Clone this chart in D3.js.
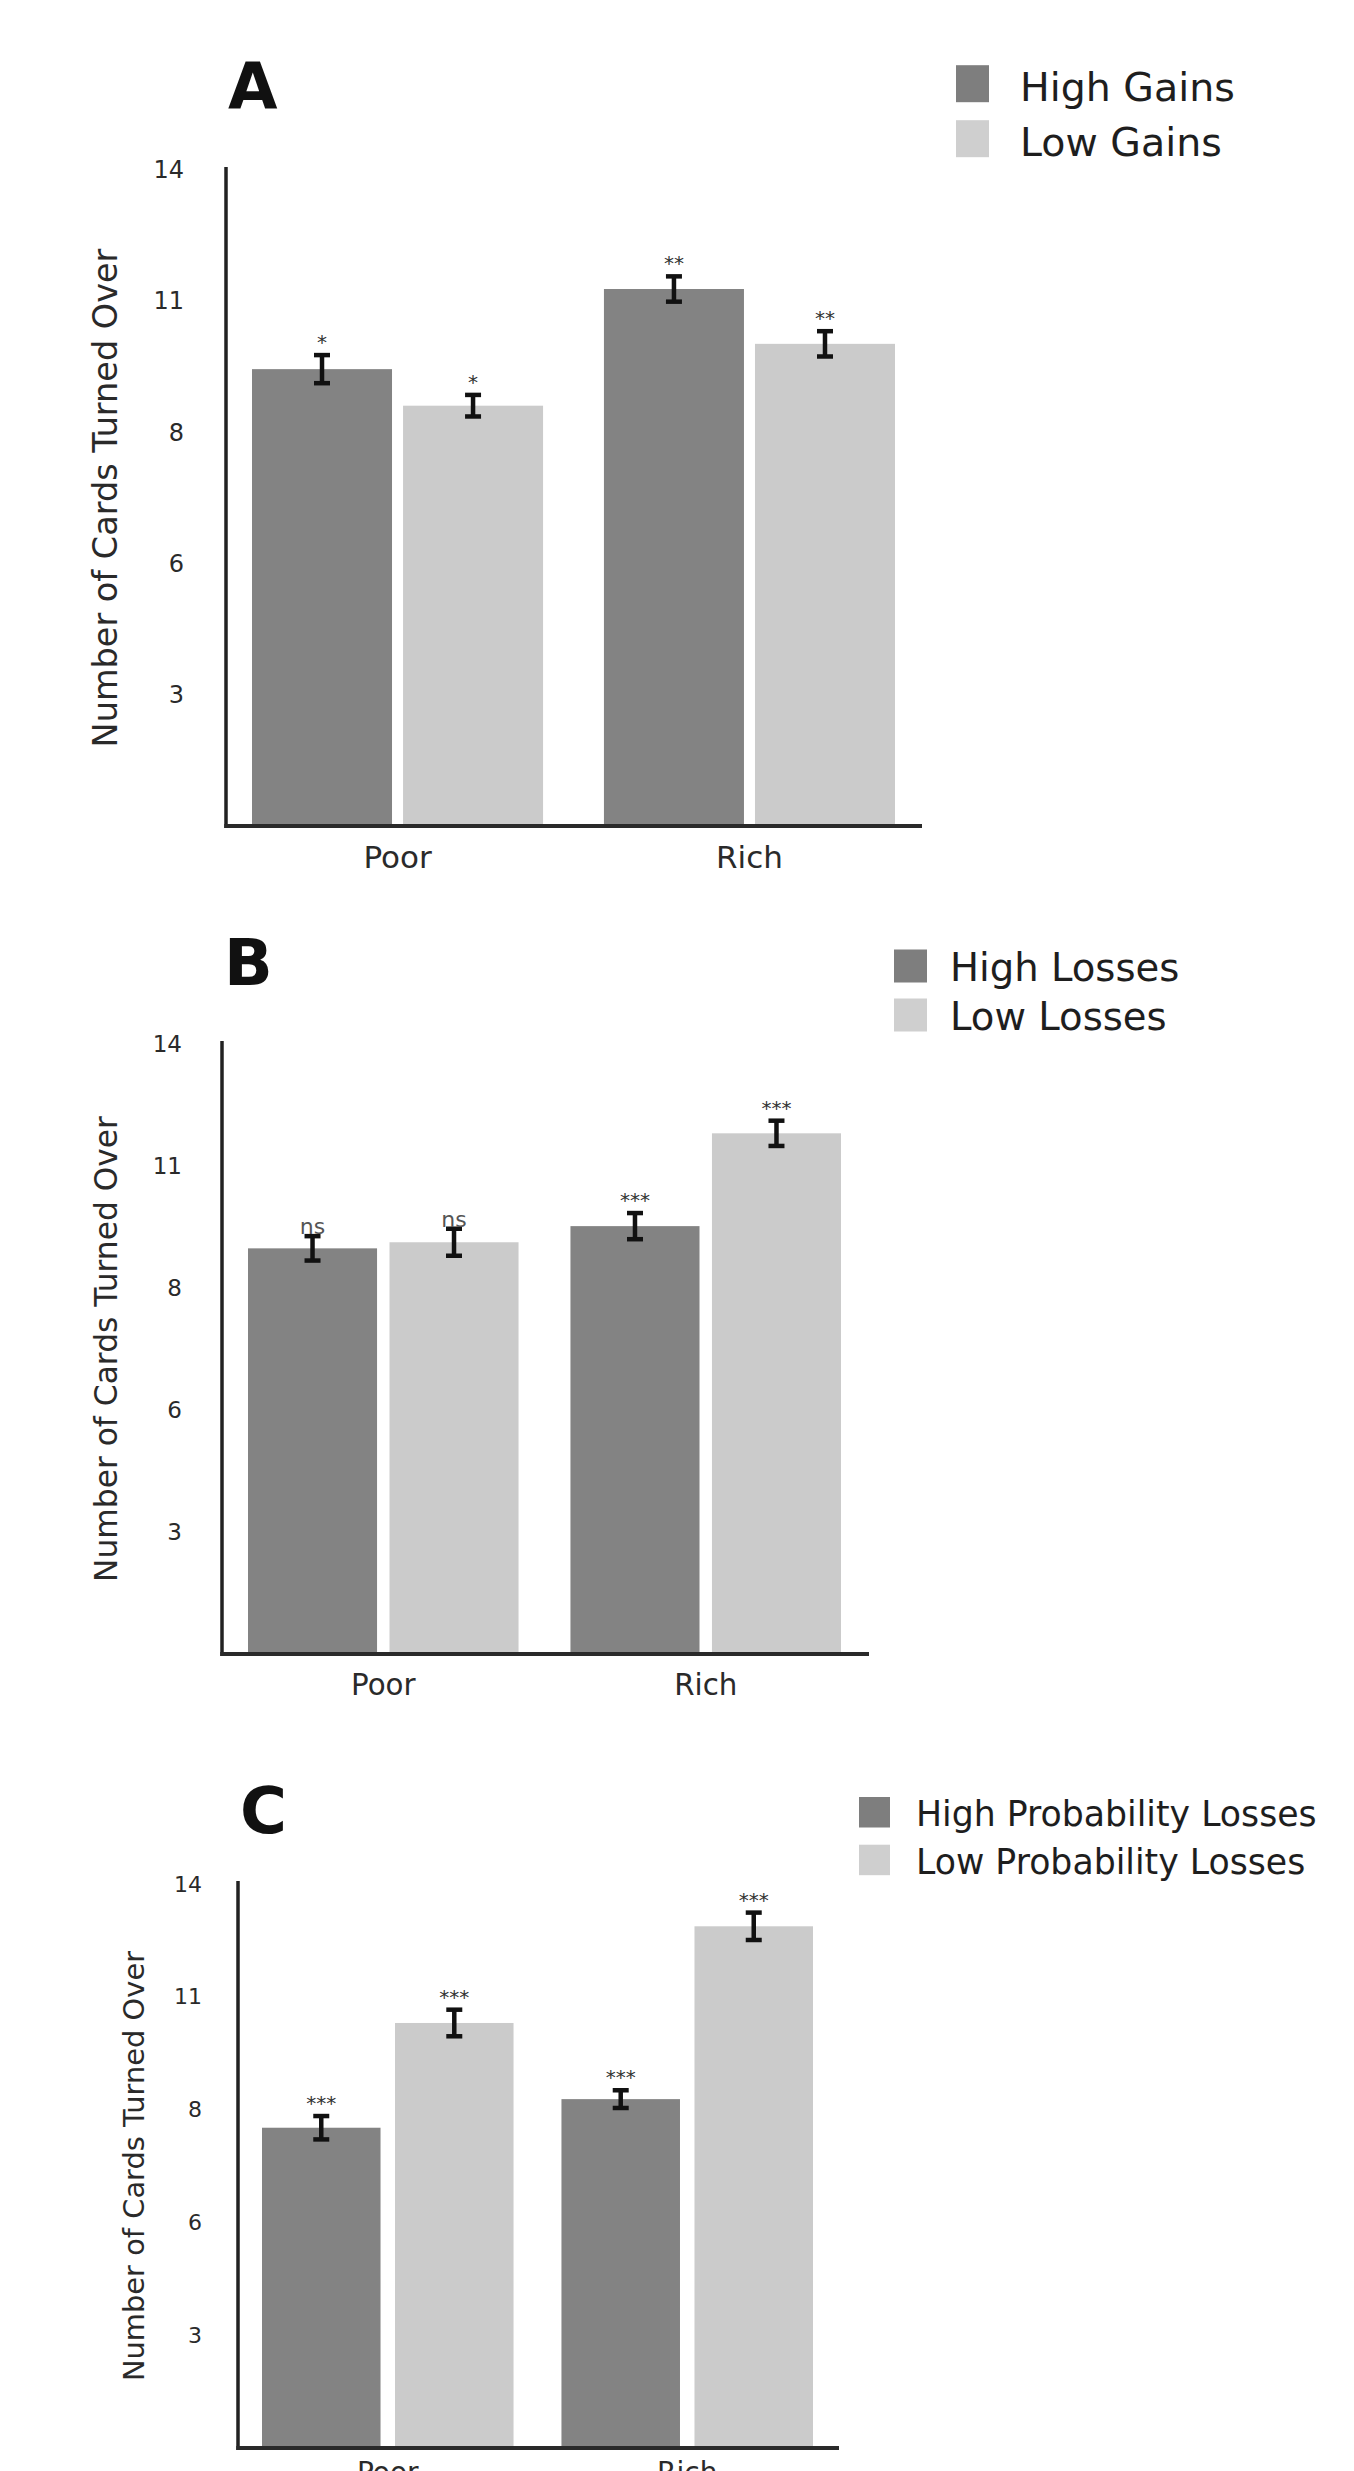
<!DOCTYPE html>
<html>
<head>
<meta charset="utf-8">
<script src="https://cdn.jsdelivr.net/npm/d3@7"></script>
<style>
  body { margin: 0; background: #fff; }
  svg { display: block; font-family: "DejaVu Sans", sans-serif; }
</style>
</head>
<body>
<div id="app"></div>
<script>
// Categories and axis ticks shared by all three panels
const groups = ["Poor", "Rich"];
const yTickValues = [2.8, 5.6, 8.4, 11.2, 14];
const yTickLabels = ["3", "6", "8", "11", "14"];
const yLabel = "Number of Cards Turned Over";

// Panel A
const seriesA = ["High Gains", "Low Gains"];
const highA = [9.75, 11.46];
const lowA = [8.97, 10.29];
const errHighA = [0.30, 0.27];
const errLowA = [0.23, 0.27];
const sigHighA = ["*", "**"];
const sigLowA = ["*", "**"];

// Panel B
const seriesB = ["High Losses", "Low Losses"];
const highB = [9.31, 9.82];
const lowB = [9.45, 11.95];
const errHighB = [0.28, 0.30];
const errLowB = [0.31, 0.29];
const sigHighB = ["ns", "***"];
const sigLowB = ["ns", "***"];

// Panel C
const seriesC = ["High Probability Losses", "Low Probability Losses"];
const highC = [7.95, 8.66];
const lowC = [10.55, 12.95];
const errHighC = [0.29, 0.22];
const errLowC = [0.33, 0.34];
const sigHighC = ["***", "***"];
const sigLowC = ["***", "***"];

const colors = ["#838383", "#cbcbcb"];
const legendColors = ["#7e7e7e", "#cfcfcf"];

const panels = [
  { letter: "A", series: seriesA, high: highA, low: lowA, errHigh: errHighA, errLow: errLowA, sigHigh: sigHighA, sigLow: sigLowA,
    axisX: 226, axisR: 922, barL: 252, barR: 895, yTop: 170, yBot: 826, padG: 0.173, padB: 0.073,
    tickPad: 42, tickFs: 24, ylabX: 105, ylabFs: 33.5, xlabFs: 31, xlabGap: 20,
    letterX: 228, letterY: 109,
    legX: 956, legTextX: 1020, legBase: [100.7, 155.7], legFs: 39.5, sw: 33, sh: 37 },
  { letter: "B", series: seriesB, high: highB, low: lowB, errHigh: errHighB, errLow: errLowB, sigHigh: sigHighB, sigLow: sigLowB,
    axisX: 222, axisR: 869, barL: 248, barR: 841, yTop: 1044, yBot: 1654, padG: 0.161, padB: 0.088,
    tickPad: 40, tickFs: 23, ylabX: 106, ylabFs: 31.3, xlabFs: 29.3, xlabGap: 20,
    letterX: 224, letterY: 985,
    legX: 894, legTextX: 950, legBase: [981, 1030], legFs: 38.6, sw: 33, sh: 33 },
  { letter: "C", series: seriesC, high: highC, low: lowC, errHigh: errHighC, errLow: errLowC, sigHigh: sigHighC, sigLow: sigLowC,
    axisX: 238, axisR: 839, barL: 262, barR: 813, yTop: 1884, yBot: 2448, padG: 0.16, padB: 0.109,
    tickPad: 36, tickFs: 22, ylabX: 133.5, ylabFs: 28.9, xlabFs: 28, xlabGap: 14,
    letterX: 240, letterY: 1833,
    legX: 859, legTextX: 916, legBase: [1826, 1873.7], legFs: 34.7, sw: 31, sh: 30.5 }
];

const svg = d3.select("#app").append("svg")
  .attr("width", 1354)
  .attr("height", 2471);

svg.append("rect").attr("width", 1354).attr("height", 2471).attr("fill", "#fff");

panels.forEach(p => {
  const g = svg.append("g");

  const y = d3.scaleLinear().domain([0, 14]).range([p.yBot, p.yTop]);
  const x0 = d3.scaleBand().domain(groups).range([p.barL, p.barR]).paddingInner(p.padG).paddingOuter(0);
  const x1 = d3.scaleBand().domain(p.series).range([0, x0.bandwidth()]).paddingInner(p.padB);
  const color = d3.scaleOrdinal().domain(p.series).range(colors);

  const rows = groups.map((grp, i) => ({
    grp,
    vals: [
      { s: p.series[0], v: p.high[i], e: p.errHigh[i], sig: p.sigHigh[i] },
      { s: p.series[1], v: p.low[i], e: p.errLow[i], sig: p.sigLow[i] }
    ]
  }));

  const grpG = g.selectAll(".grp")
    .data(rows)
    .join("g")
    .attr("transform", d => `translate(${x0(d.grp)},0)`);

  const cell = grpG.selectAll(".cell")
    .data(d => d.vals)
    .join("g");

  // bars
  cell.append("rect")
    .attr("x", d => x1(d.s))
    .attr("y", d => y(d.v))
    .attr("width", x1.bandwidth())
    .attr("height", d => y(0) - y(d.v))
    .attr("fill", d => color(d.s));

  // error bars
  const cx = d => x1(d.s) + x1.bandwidth() / 2;
  cell.append("line")
    .attr("x1", cx).attr("x2", cx)
    .attr("y1", d => y(d.v + d.e)).attr("y2", d => y(d.v - d.e))
    .attr("stroke", "#111").attr("stroke-width", 4.5);
  [1, -1].forEach(sgn => {
    cell.append("line")
      .attr("x1", d => cx(d) - 8).attr("x2", d => cx(d) + 8)
      .attr("y1", d => y(d.v + sgn * d.e)).attr("y2", d => y(d.v + sgn * d.e))
      .attr("stroke", "#111").attr("stroke-width", 4.5);
  });

  // significance marks
  cell.append("text")
    .attr("x", cx)
    .attr("y", d => d.sig === "ns" ? y(d.v + d.e) - 2 : y(d.v + d.e) - 6)
    .attr("text-anchor", "middle")
    .attr("font-size", d => d.sig === "ns" ? 22 : 20)
    .attr("fill", d => d.sig === "ns" ? "#555" : "#333")
    .text(d => d.sig);

  // y axis
  const yAxis = g.append("g")
    .attr("transform", `translate(${p.axisX},0)`)
    .call(d3.axisLeft(y)
      .tickValues(yTickValues)
      .tickFormat((d, i) => yTickLabels[i])
      .tickSize(0)
      .tickPadding(p.tickPad));
  yAxis.select(".domain").remove();
  yAxis.selectAll("text")
    .attr("font-size", p.tickFs)
    .attr("font-family", "DejaVu Sans, sans-serif")
    .attr("fill", "#2a2a2a");

  g.append("line")
    .attr("x1", p.axisX).attr("x2", p.axisX)
    .attr("y1", y(14) - 3).attr("y2", y(0) + 2)
    .attr("stroke", "#222").attr("stroke-width", 3.5);

  // x axis
  const xAxis = g.append("g")
    .attr("transform", `translate(0,${y(0)})`)
    .call(d3.axisBottom(x0).tickSize(0).tickPadding(p.xlabGap));
  xAxis.select(".domain").remove();
  xAxis.selectAll("text")
    .attr("font-size", p.xlabFs)
    .attr("font-family", "DejaVu Sans, sans-serif")
    .attr("fill", "#2a2a2a");

  g.append("line")
    .attr("x1", p.axisX - 1.75).attr("x2", p.axisR)
    .attr("y1", y(0)).attr("y2", y(0))
    .attr("stroke", "#2a2a2a").attr("stroke-width", 4);

  // y label
  g.append("text")
    .attr("transform", `translate(${p.ylabX},${(p.yTop + p.yBot) / 2}) rotate(-90)`)
    .attr("text-anchor", "middle")
    .attr("dy", "0.36em")
    .attr("font-size", p.ylabFs)
    .attr("fill", "#2a2a2a")
    .text(yLabel);

  // panel letter
  g.append("text")
    .attr("x", p.letterX)
    .attr("y", p.letterY)
    .attr("font-size", 64)
    .attr("font-weight", "bold")
    .attr("fill", "#111")
    .text(p.letter);

  // legend
  const leg = g.selectAll(".leg")
    .data(p.series)
    .join("g");
  leg.append("rect")
    .attr("x", p.legX)
    .attr("y", (d, i) => p.legBase[i] + 1.5 - p.sh)
    .attr("width", p.sw)
    .attr("height", p.sh)
    .attr("fill", (d, i) => legendColors[i]);
  leg.append("text")
    .attr("x", p.legTextX)
    .attr("y", (d, i) => p.legBase[i])
    .attr("font-size", p.legFs)
    .attr("fill", "#1e1e1e")
    .text(d => d);
});
</script>
</body>
</html>
